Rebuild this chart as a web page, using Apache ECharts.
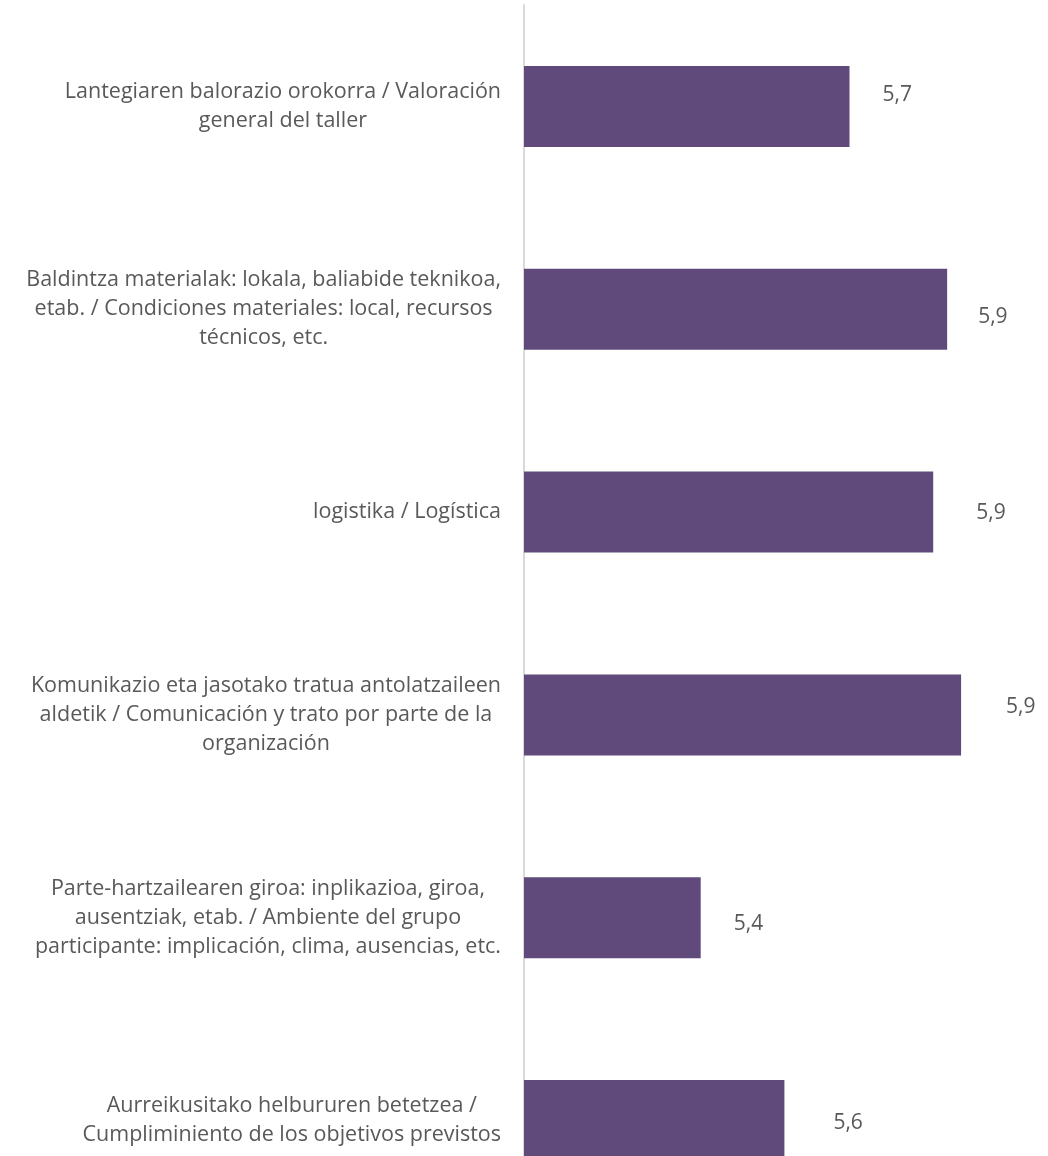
<!DOCTYPE html>
<html>
<head>
<meta charset="utf-8">
<script src="https://cdn.jsdelivr.net/npm/echarts@6/dist/echarts.min.js"></script>
<style>
html,body{margin:0;padding:0;background:#fff;}
#chart{width:1048px;height:1156px;}
</style>
</head>
<body>
<div id="chart"></div>
<script>
const categories = [
  "Lantegiaren balorazio orokorra / Valoración\ngeneral del taller",
  "Baldintza materialak: lokala, baliabide teknikoa,\netab. / Condiciones materiales: local, recursos\ntécnicos, etc.",
  "logistika / Logística",
  "Komunikazio eta jasotako tratua antolatzaileen\naldetik / Comunicación y trato por parte de la\norganización",
  "Parte-hartzailearen giroa: inplikazioa, giroa,\nausentziak, etab. / Ambiente del grupo\nparticipante: implicación, clima, ausencias, etc.",
  "Aurreikusitako helbururen betetzea /\nCumpliminiento de los objetivos previstos"
];
const values = [5.70, 5.91, 5.88, 5.94, 5.38, 5.56];
const axisMin = 5;
const axisMax = 6;

// per-label nudges of the value labels (styling only)
const labelDistance = [33, 31, 43, 45, 33, 49];
const labelShiftY = [-11, 8, 1, -8, 6, 2];

const chart = echarts.init(document.getElementById('chart'), null, {renderer: 'canvas'});
const textColor = '#595959';
const font = '"Open Sans", sans-serif';

chart.setOption({
  animation: false,
  backgroundColor: '#ffffff',
  grid: {left: 524, width: 465, top: 5, height: 1217, containLabel: false, outerBoundsMode: 'none'},
  xAxis: {
    type: 'value', min: axisMin, max: axisMax,
    show: false
  },
  yAxis: {
    type: 'category',
    inverse: true,
    data: categories,
    axisLine: {show: true, lineStyle: {color: '#d9d9d9', width: 2}},
    axisTick: {show: false},
    axisLabel: {
      margin: 23,
      formatter: function (v) { return '{c|' + v + '}'; },
      rich: {
        c: {align: 'center', fontFamily: font, fontSize: 21.5, lineHeight: 29, color: textColor}
      }
    }
  },
  series: [{
    type: 'bar',
    data: values.map(function (v, i) {
      return {value: v, label: {distance: labelDistance[i], offset: [0, labelShiftY[i]]}};
    }),
    barWidth: 81,
    itemStyle: {color: '#5f4a7b'},
    label: {
      show: true,
      position: 'right',
      fontFamily: font,
      fontSize: 21,
      color: textColor,
      formatter: function (p) { return p.value.toFixed(1).replace('.', ','); }
    }
  }]
});
</script>
</body>
</html>
